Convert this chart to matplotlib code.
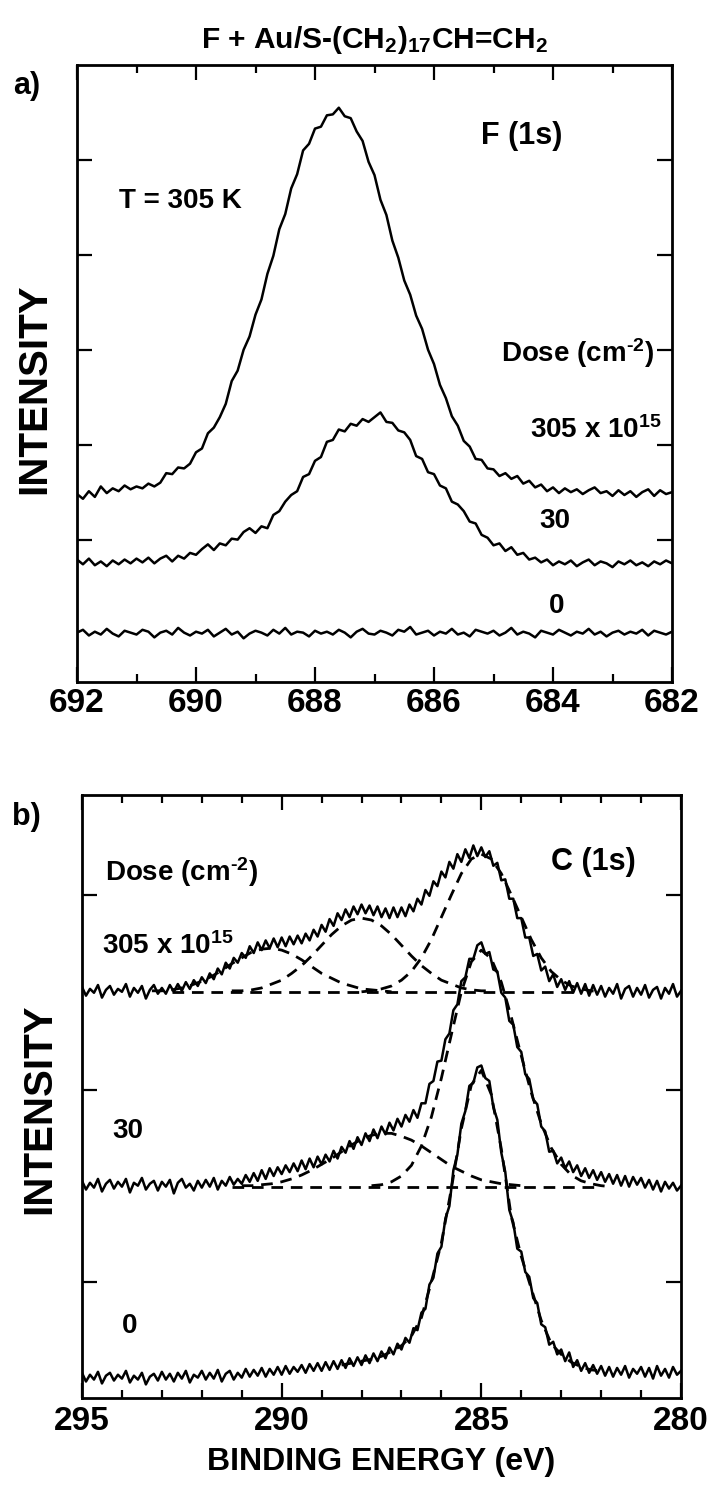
import numpy as np
import matplotlib
matplotlib.use("Agg")
import matplotlib.pyplot as plt
from matplotlib.ticker import MultipleLocator

# ---------------- data ----------------
# F(1s) spectra: energies 692.0 -> 682.0 eV, 0.1 eV steps
f_energy = np.linspace(692.0, 682.0, 101)
f_dose0 = [0.52,0.55,0.49,0.53,0.50,0.56,0.51,0.48,0.54,0.52,
           0.50,0.55,0.53,0.47,0.52,0.54,0.50,0.57,0.52,0.49,
           0.53,0.51,0.55,0.48,0.52,0.56,0.50,0.53,0.46,0.51,
           0.54,0.52,0.49,0.55,0.51,0.57,0.50,0.53,0.52,0.48,
           0.54,0.51,0.53,0.50,0.55,0.52,0.47,0.53,0.56,0.51,
           0.50,0.54,0.52,0.49,0.55,0.53,0.58,0.50,0.52,0.54,
           0.49,0.53,0.51,0.56,0.50,0.52,0.48,0.55,0.53,0.51,
           0.54,0.49,0.52,0.57,0.50,0.53,0.51,0.47,0.54,0.52,
           0.50,0.55,0.52,0.49,0.53,0.51,0.56,0.50,0.53,0.48,
           0.52,0.54,0.50,0.53,0.51,0.55,0.49,0.54,0.52,0.50,
           0.53]
f_dose30 = [1.29,1.24,1.30,1.23,1.27,1.22,1.28,1.24,1.29,1.25,
            1.30,1.26,1.31,1.25,1.30,1.33,1.27,1.33,1.30,1.36,
            1.34,1.40,1.45,1.39,1.46,1.44,1.51,1.50,1.58,1.62,
            1.57,1.64,1.62,1.76,1.80,1.90,1.97,2.01,2.16,2.19,
            2.33,2.37,2.53,2.55,2.66,2.64,2.72,2.70,2.77,2.74,
            2.79,2.84,2.74,2.73,2.65,2.63,2.55,2.38,2.35,2.21,
            2.19,2.07,2.04,1.90,1.87,1.80,1.69,1.67,1.55,1.52,
            1.44,1.46,1.38,1.42,1.34,1.36,1.29,1.31,1.26,1.29,
            1.23,1.27,1.24,1.28,1.22,1.26,1.29,1.23,1.27,1.25,
            1.21,1.27,1.24,1.28,1.23,1.26,1.22,1.27,1.24,1.28,
            1.25]
f_dose305 = [1.98,1.93,2.01,1.95,2.06,1.99,2.04,2.01,2.07,2.03,
             2.06,2.04,2.09,2.06,2.10,2.20,2.19,2.26,2.25,2.30,
             2.42,2.46,2.62,2.68,2.79,2.93,3.17,3.28,3.50,3.64,
             3.87,4.03,4.30,4.49,4.77,4.93,5.20,5.35,5.60,5.67,
             5.83,5.85,5.97,5.98,6.05,5.96,5.94,5.80,5.70,5.48,
             5.34,5.08,4.92,4.65,4.47,4.23,4.08,3.86,3.72,3.50,
             3.35,3.13,2.99,2.80,2.70,2.54,2.48,2.35,2.34,2.25,
             2.24,2.17,2.20,2.14,2.17,2.09,2.12,2.05,2.08,2.01,
             2.05,1.99,2.04,2.00,2.03,1.98,2.02,2.05,1.99,2.01,
             1.96,2.02,1.97,2.01,1.95,2.00,2.03,1.96,2.02,1.98,
             2.00]

# C(1s) spectra: energies 295.0 -> 280.0 eV, 0.1 eV steps
c_energy = np.linspace(295.0, 280.0, 151)
c_dose305 = [4.24,4.15,4.22,4.18,4.26,4.13,4.21,4.25,4.16,4.22,
             4.19,4.27,4.14,4.23,4.18,4.25,4.12,4.21,4.26,4.17,
             4.23,4.17,4.26,4.19,4.27,4.20,4.29,4.22,4.31,4.25,
             4.34,4.28,4.38,4.32,4.43,4.37,4.49,4.43,4.54,4.49,
             4.59,4.54,4.66,4.59,4.70,4.62,4.72,4.64,4.74,4.65,
             4.75,4.66,4.76,4.68,4.77,4.69,4.79,4.72,4.83,4.76,
             4.88,4.81,4.94,4.87,5.00,4.93,5.04,4.96,5.07,4.99,
             5.09,5.00,5.08,4.98,5.07,4.96,5.05,4.95,5.06,4.96,
             5.06,4.97,5.09,5.02,5.15,5.09,5.24,5.18,5.33,5.28,
             5.43,5.37,5.53,5.46,5.61,5.53,5.66,5.57,5.70,5.59,
             5.68,5.58,5.64,5.49,5.52,5.34,5.35,5.15,5.15,4.95,
             4.95,4.75,4.75,4.56,4.58,4.41,4.45,4.30,4.37,4.24,
             4.32,4.21,4.30,4.18,4.28,4.17,4.27,4.15,4.26,4.16,
             4.25,4.14,4.23,4.17,4.27,4.12,4.22,4.25,4.14,4.23,
             4.16,4.26,4.13,4.21,4.24,4.12,4.23,4.17,4.27,4.14,
             4.20]
c_dose30 = [2.24,2.15,2.22,2.17,2.26,2.13,2.21,2.25,2.16,2.23,
            2.18,2.26,2.12,2.22,2.19,2.27,2.15,2.21,2.24,2.14,
            2.23,2.18,2.25,2.11,2.22,2.26,2.17,2.21,2.14,2.24,
            2.17,2.25,2.18,2.27,2.15,2.24,2.19,2.28,2.20,2.26,
            2.21,2.30,2.23,2.32,2.24,2.35,2.26,2.37,2.29,2.38,
            2.31,2.40,2.33,2.42,2.34,2.45,2.36,2.47,2.38,2.49,
            2.41,2.51,2.44,2.55,2.47,2.59,2.53,2.65,2.57,2.69,
            2.61,2.73,2.65,2.77,2.68,2.80,2.72,2.84,2.76,2.88,
            2.80,2.92,2.85,2.97,2.89,3.04,3.04,3.24,3.27,3.47,
            3.48,3.70,3.76,4.00,4.06,4.30,4.34,4.53,4.53,4.67,
            4.70,4.58,4.60,4.42,4.40,4.18,4.13,3.89,3.85,3.62,
            3.57,3.34,3.29,3.08,3.03,2.80,2.75,2.54,2.55,2.42,
            2.48,2.37,2.44,2.33,2.40,2.29,2.37,2.27,2.35,2.25,
            2.33,2.23,2.31,2.21,2.30,2.19,2.29,2.18,2.28,2.20,
            2.27,2.17,2.25,2.15,2.24,2.13,2.23,2.16,2.22,2.14,
            2.19]
c_dose0 = [0.26,0.17,0.24,0.19,0.27,0.15,0.23,0.26,0.18,0.24,
           0.20,0.28,0.16,0.23,0.19,0.26,0.14,0.22,0.25,0.18,
           0.27,0.19,0.25,0.17,0.26,0.20,0.28,0.16,0.24,0.21,
           0.28,0.19,0.26,0.20,0.29,0.17,0.25,0.28,0.19,0.26,
           0.21,0.30,0.22,0.29,0.23,0.31,0.22,0.30,0.24,0.32,
           0.24,0.33,0.25,0.32,0.27,0.34,0.26,0.35,0.28,0.36,
           0.28,0.37,0.29,0.38,0.30,0.39,0.31,0.41,0.33,0.42,
           0.34,0.44,0.36,0.46,0.38,0.48,0.41,0.52,0.45,0.56,
           0.50,0.62,0.57,0.72,0.70,0.88,0.92,1.17,1.24,1.49,
           1.56,1.85,1.98,2.35,2.51,2.83,2.96,3.22,3.25,3.41,
           3.43,3.30,3.27,3.00,2.87,2.53,2.33,1.94,1.81,1.54,
           1.51,1.30,1.25,1.03,0.98,0.76,0.73,0.55,0.58,0.45,
           0.50,0.38,0.47,0.32,0.39,0.28,0.36,0.26,0.34,0.25,
           0.33,0.23,0.32,0.22,0.31,0.24,0.33,0.21,0.30,0.25,
           0.32,0.22,0.31,0.20,0.33,0.23,0.30,0.21,0.32,0.24,
           0.28]

# fitted components (dashed), read at 0.25 eV steps
fit305_c1_e = np.linspace(293.25, 287.25, 25)
fit305_c1 = [4.20,4.20,4.21,4.23,4.26,4.30,4.35,4.41,4.48,4.54,4.60,4.63,4.64,
             4.62,4.58,4.52,4.45,4.38,4.33,4.28,4.25,4.22,4.21,4.20,4.19]
fit305_c2_e = np.linspace(291.25, 284.75, 27)
fit305_c2 = [4.20,4.20,4.21,4.23,4.27,4.31,4.38,4.46,4.56,4.67,4.78,4.87,4.93,4.95,
             4.93,4.87,4.78,4.67,4.56,4.46,4.38,4.31,4.27,4.23,4.21,4.20,4.20]
fit305_c3_e = np.linspace(288.0, 282.0, 25)
fit305_c3 = [4.19,4.20,4.22,4.25,4.31,4.40,4.54,4.73,4.96,5.19,5.41,5.56,5.61,
             5.56,5.41,5.19,4.96,4.73,4.54,4.40,4.31,4.25,4.22,4.20,4.19]
fit305_base_e = [292.75, 282.5]
fit305_base = [4.19, 4.19]

fit30_a_e = np.linspace(291.0, 284.0, 29)
fit30_a = [2.19,2.19,2.20,2.21,2.23,2.26,2.30,2.35,2.41,2.47,2.54,2.61,2.67,2.71,2.73,
           2.73,2.70,2.66,2.60,2.53,2.46,2.39,2.34,2.29,2.25,2.23,2.21,2.20,2.19]
fit30_b_e = np.linspace(287.75, 281.75, 25)
fit30_b = [2.19,2.20,2.23,2.29,2.40,2.60,2.90,3.30,3.75,4.19,4.50,4.62,4.53,
           4.29,3.93,3.53,3.15,2.83,2.58,2.41,2.30,2.24,2.21,2.19,2.18]
fit30_base_e = [291.25, 282.0]
fit30_base = [2.18, 2.18]

fit0_e = np.linspace(288.5, 282.0, 27)
fit0 = [0.34,0.36,0.38,0.40,0.43,0.48,0.54,0.64,0.83,1.20,1.60,2.16,2.78,3.23,
        3.38,3.13,2.57,1.87,1.46,1.13,0.80,0.56,0.45,0.37,0.32,0.29,0.28]

# ---------------- style ----------------
FAM = "Liberation Sans"
plt.rcParams["font.family"] = [FAM, "DejaVu Sans"]
plt.rcParams["font.weight"] = "bold"
plt.rcParams["mathtext.fontset"] = "custom"
for k in ("rm", "bf", "it", "sf"):
    plt.rcParams["mathtext." + k] = FAM + ":bold"
plt.rcParams["mathtext.default"] = "rm"

W, H = 707, 1485
fig = plt.figure(figsize=(W / 100, H / 100), dpi=100)

def px_axes(l, t, r, b):
    return fig.add_axes([l / W, 1 - b / H, (r - l) / W, (b - t) / H])

def ftext(x, y, s, size, ha="center", va="center"):
    fig.text(x / W, 1 - y / H, s, fontsize=size, fontweight="bold", ha=ha, va=va)

TRACE = dict(color="black", lw=1.8, solid_joinstyle="round")
DASH = dict(color="black", lw=2.0, linestyle=(0, (4.2, 2.8)))

def style(ax, pad):
    for sp in ax.spines.values():
        sp.set_linewidth(2.0)
    ax.tick_params(which="both", direction="in", top=True, right=True,
                   labelleft=False, width=1.6, labelsize=24, pad=pad)
    ax.tick_params(which="major", length=11)
    ax.tick_params(which="minor", length=5.5)
    for lab in ax.get_xticklabels():
        lab.set_fontweight("bold")

SUP = "$^{\\text{-}2}$"

# ---------------- panel a ----------------
ax1 = px_axes(77, 65, 672, 682)
ax1.plot(f_energy, f_dose305, **TRACE)
ax1.plot(f_energy, f_dose30, **TRACE)
ax1.plot(f_energy, f_dose0, **TRACE)
ax1.set_xlim(692, 682)
ax1.set_ylim(0, 6.5)
ax1.xaxis.set_major_locator(MultipleLocator(2))
ax1.xaxis.set_minor_locator(MultipleLocator(1))
ax1.set_yticks([1.5, 2.5, 3.5, 4.5, 5.5])
style(ax1, 4)
ax1.set_ylabel("INTENSITY", fontsize=29, fontweight="bold")
ax1.yaxis.set_label_coords(-0.040, 0.475)

# ---------------- panel b ----------------
ax2 = px_axes(82, 795, 681, 1398)
ax2.plot(c_energy, c_dose305, **TRACE)
ax2.plot(c_energy, c_dose30, **TRACE)
ax2.plot(c_energy, c_dose0, **TRACE)
for e, v in ((fit305_base_e, fit305_base), (fit305_c1_e, fit305_c1),
             (fit305_c2_e, fit305_c2), (fit305_c3_e, fit305_c3),
             (fit30_base_e, fit30_base), (fit30_a_e, fit30_a),
             (fit30_b_e, fit30_b), (fit0_e, fit0)):
    ax2.plot(e, v, **DASH)
ax2.set_xlim(295, 280)
ax2.set_ylim(0, 6.22)
ax2.xaxis.set_major_locator(MultipleLocator(5))
ax2.xaxis.set_minor_locator(MultipleLocator(1))
ax2.set_yticks([1.2, 3.18, 5.19])
style(ax2, 6)
ax2.set_ylabel("INTENSITY", fontsize=29, fontweight="bold")
ax2.yaxis.set_label_coords(-0.040, 0.48)
ax2.set_xlabel("BINDING ENERGY (eV)", fontsize=23, fontweight="bold")
ax2.xaxis.set_label_coords(0.5, -0.081)

# ---------------- texts ----------------
ftext(375, 40, "F + Au/S-(CH$_2$)$_{17}$CH=CH$_2$", 21.5)
ftext(27, 86, "a)", 22)
ftext(180, 201, "T = 305 K", 20)
ftext(522, 136, "F (1s)", 22)
ftext(578, 353, "Dose (cm" + SUP + ")", 20)
ftext(596, 430, "305 x 10$^{15}$", 20)
ftext(555, 521, "30", 20)
ftext(557, 606, "0", 20)

ftext(26, 817, "b)", 22)
ftext(182, 872, "Dose (cm" + SUP + ")", 20)
ftext(102, 946, "305 x 10$^{15}$", 20, ha="left")
ftext(593, 862, "C (1s)", 22)
ftext(128, 1131, "30", 20)
ftext(130, 1326, "0", 20)

fig.savefig("out.png", dpi=100)
